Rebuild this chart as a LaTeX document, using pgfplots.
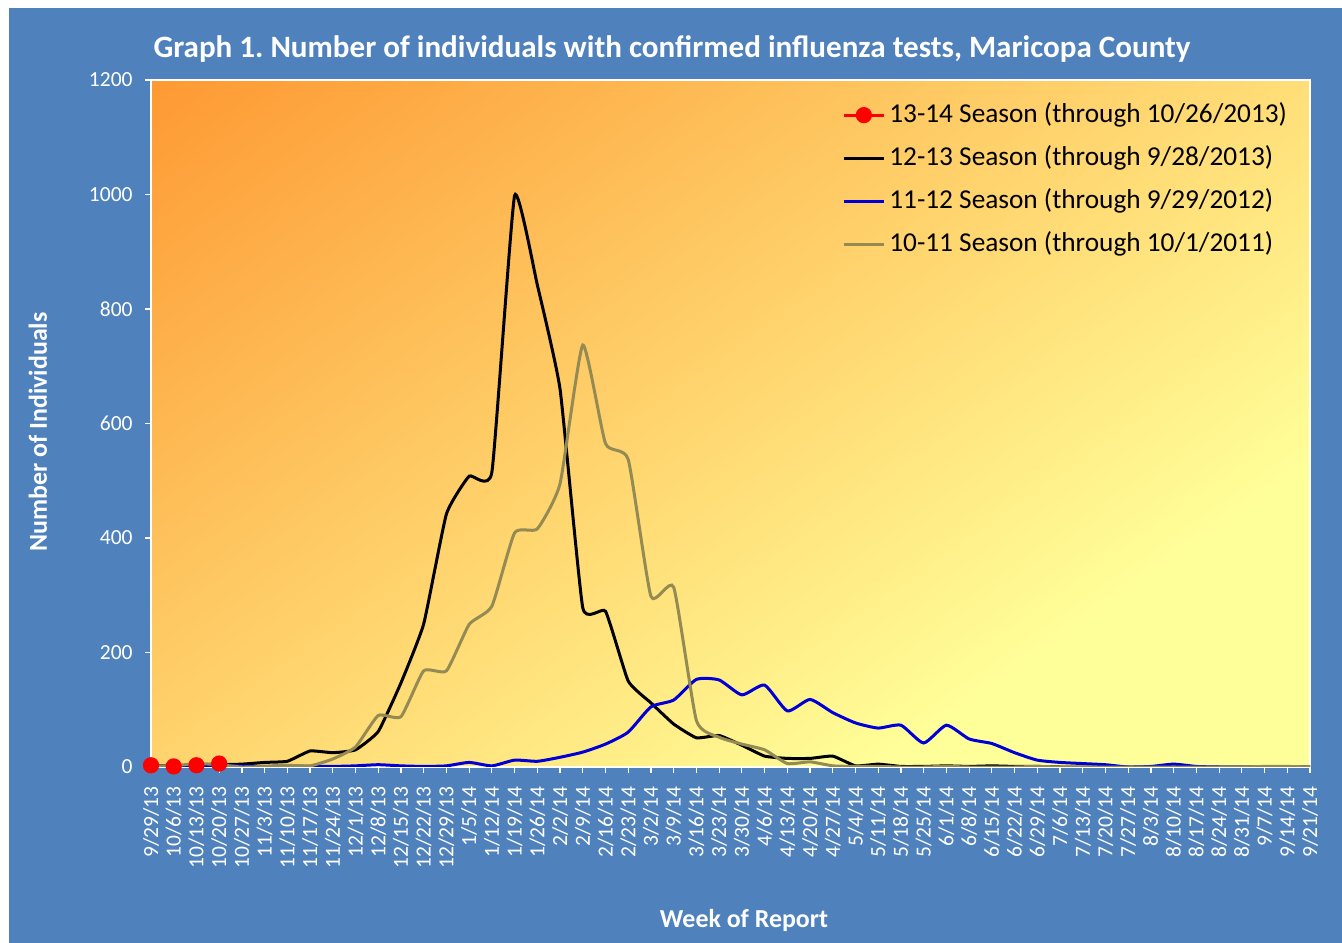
\documentclass[border=0pt]{standalone}
\usepackage{fontspec}
\setmainfont{Carlito}
\usepackage{pgfplots}
\usepackage{pgfplotstable}
\pgfplotsset{compat=1.18}
\frenchspacing
\definecolor{bgblue}{RGB}{79,129,189}
\definecolor{porange}{RGB}{254,153,51}
\definecolor{pyellow}{RGB}{255,255,153}
\definecolor{season10}{RGB}{148,138,84}
\definecolor{season11}{RGB}{0,0,214}
\pgfdeclareverticalshading{plotbg}{100bp}{color(0bp)=(pyellow); color(29bp)=(pyellow); color(85bp)=(porange); color(100bp)=(porange)}

\pgfplotstableread{
i black blue gray
0 2 1 2
1 2 1 2
2 3 2 6
3 4 3 4
4 5 2 0
5 8 1 1
6 10 2 3
7 28 1 2
8 25 1 14
9 30 2 35
10 62 4 90
11 147 2 88
12 250 1 168
13 442 2 168
14 508 8 249
15 515 2 281
16 998 12 409
17 842 10 416
18 660 17 495
19 278 26 737
20 272 40 565
21 150 61 537
22 112 105 298
23 75 117 314
24 51 153 81
25 55 152 52
26 38 126 40
27 19 143 30
28 15 98 6
29 15 118 9
30 19 95 2
31 2 77 1
32 5 68 1
33 1 73 0
34 1 42 0
35 2 73 1
36 1 49 0
37 2 41 0
38 1 25 0
39 1 12 1
40 0 8 0
41 0 6 0
42 0 4 0
43 0 0 0
44 0 1 0
45 0 5 0
46 0 1 0
47 0 0 0
48 0 0 0
49 0 0 1
50 0 0 1
51 0 0 0
}\seasons

\begin{document}
\begin{tikzpicture}
\fill[white] (0bp,0bp) rectangle (671bp,471.5bp);
\fill[bgblue] (4.5bp,0bp) rectangle (671bp,467.5bp);
\begin{axis}[
  at={(75.5bp,88bp)}, anchor=south west,
  scale only axis, width=579.5bp, height=343.5bp,
  xmin=0, xmax=51, ymin=0, ymax=1200,
  xtick={0,...,51},
  xticklabels={9/29/13,10/6/13,10/13/13,10/20/13,10/27/13,11/3/13,11/10/13,11/17/13,11/24/13,12/1/13,12/8/13,12/15/13,12/22/13,12/29/13,1/5/14,1/12/14,1/19/14,1/26/14,2/2/14,2/9/14,2/16/14,2/23/14,3/2/14,3/9/14,3/16/14,3/23/14,3/30/14,4/6/14,4/13/14,4/20/14,4/27/14,5/4/14,5/11/14,5/18/14,5/25/14,6/1/14,6/8/14,6/15/14,6/22/14,6/29/14,7/6/14,7/13/14,7/20/14,7/27/14,8/3/14,8/10/14,8/17/14,8/24/14,8/31/14,9/7/14,9/14/14,9/21/14},
  ytick={0,200,...,1200},
  tick pos=left, tick align=outside, major tick length=3bp,
  tick style={white, line width=0.6bp},
  axis line style={white, line width=0.8bp},
  /pgf/number format/assume math mode=true,
  /pgf/number format/1000 sep={},
  x tick label style={rotate=90, anchor=east, font=\fontsize{10.8}{13}\selectfont, text=white, inner sep=1bp, xshift=-5.5bp},
  y tick label style={font=\fontsize{10.8}{13}\selectfont, text=white, inner sep=1bp, xshift=-5bp},
  axis background/.style={shade, shading=plotbg, shading angle=35},
  legend cell align=left,
  legend style={at={(0.591,0.98)}, anchor=north west, draw=none, fill=none,
    font=\fontsize{13.7}{16}\selectfont, row sep=4.5bp,
    nodes={text height=10bp, text depth=3bp, inner sep=2bp}},
  legend image code/.code={\draw[#1, mark repeat=2, mark phase=2] plot coordinates {(0bp,0bp) (10bp,0bp) (20bp,0bp)};},
  every axis plot/.append style={line width=1.5bp},
]
\addplot[red, mark=*, mark size=3.3bp] coordinates {(0,3) (1,1) (2,3) (3,6)};
\addlegendentry{13-14 Season (through 10/26/2013)}
\addplot[black, smooth, tension=0.25] table[x=i, y=black] {\seasons};
\addlegendentry{12-13 Season (through 9/28/2013)}
\addplot[season11, smooth, tension=0.35] table[x=i, y=blue] {\seasons};
\addlegendentry{11-12 Season (through 9/29/2012)}
\addplot[season10, smooth, tension=0.3] table[x=i, y=gray] {\seasons};
\addlegendentry{10-11 Season (through 10/1/2011)}
\end{axis}
\node[anchor=base, text=white, font=\fontsize{15.6}{18}\selectfont\bfseries] at (336bp,442.5bp) {Graph 1. Number of individuals with confirmed influenza tests, Maricopa County};
\node[rotate=90, text=white, font=\fontsize{13}{15}\selectfont\bfseries] at (19bp,255.5bp) {Number of Individuals};
\node[text=white, font=\fontsize{13}{15}\selectfont\bfseries] at (372bp,11.5bp) {Week of Report};
\end{tikzpicture}
\end{document}
